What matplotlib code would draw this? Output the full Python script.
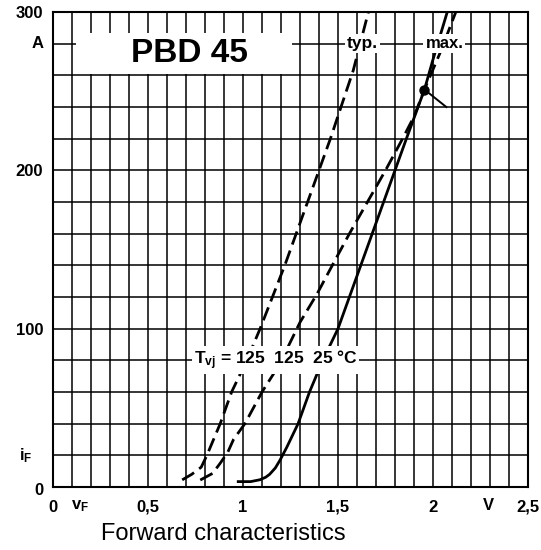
import matplotlib
matplotlib.use('Agg')
import matplotlib.pyplot as plt
from matplotlib.patches import Rectangle
import numpy as np

plt.rcParams['font.family'] = ['Liberation Sans', 'DejaVu Sans']
plt.rcParams['mathtext.fontset'] = 'custom'
plt.rcParams['mathtext.rm'] = 'Liberation Sans:bold'
plt.rcParams['mathtext.it'] = 'Liberation Sans:bold'

# 125 °C typ. (dashed, left)
typ125_v = [0.68, 0.73, 0.78, 0.81, 0.88, 0.94, 1.02, 1.09, 1.22, 1.28, 1.34, 1.40, 1.46, 1.58, 1.66]
typ125_i = [4.5, 8, 12.5, 20, 40, 60, 80, 100, 140, 160, 180, 200, 220, 263, 300]

# 125 °C max. (dashed, right)
max125_v = [0.775, 0.84, 0.88, 0.92, 0.95, 1.01, 1.10, 1.19, 1.30, 1.39, 1.47, 1.56, 1.655, 1.75, 1.84, 1.90, 1.955, 2.04, 2.12]
max125_i = [4.4, 8.6, 15, 22, 30, 40, 60, 77, 104, 122, 140, 160, 180, 200, 220, 234, 251, 275, 300]

# 25 °C (solid)
t25_v = [0.975, 1.04, 1.09, 1.12, 1.14, 1.17, 1.195, 1.23, 1.29, 1.35, 1.42, 1.50, 1.56, 1.62, 1.68, 1.80, 1.86, 1.90, 1.955, 2.00, 2.075]
t25_i = [3.4, 3.4, 4.6, 6.2, 8, 12, 17, 25, 40, 60, 80, 100, 120, 140, 160, 200, 220, 233, 251, 270, 300]

cross_v, cross_i = 1.955, 251
pointer_v, pointer_i = 2.07, 240

x_ticks = [0, 0.5, 1, 1.5, 2, 2.5]
x_labels = ['0', '0,5', '1', '1,5', '2', '2,5']
y_ticks = [100, 200, 300]
y_labels = ['100', '200', '300']

fig = plt.figure(figsize=(5.41, 5.50), dpi=100)
ax = fig.add_axes([53 / 541, 63 / 550, 475 / 541, 475 / 550])
ax.set_xlim(0, 2.5)
ax.set_ylim(0, 300)

ax.set_xticks(x_ticks)
ax.set_xticklabels(x_labels, fontsize=12, fontweight='bold')
ax.set_xticks(np.arange(0, 2.51, 0.1), minor=True)
ax.set_yticks(y_ticks)
ax.set_yticklabels(y_labels, fontsize=12, fontweight='bold')
ax.set_yticks(np.arange(0, 301, 20), minor=True)
ax.tick_params(which='both', length=0)
ax.tick_params(axis='x', pad=9)
ax.tick_params(axis='y', pad=7)
ax.set_axisbelow(True)
ax.grid(True, which='both', color='black', linewidth=1.1)
for s in ax.spines.values():
    s.set_linewidth(1.5)

# title box
ax.add_patch(Rectangle((0.12, 261), 1.14, 26, facecolor='white', edgecolor='none', zorder=1))
ax.text(0.716, 273.5, 'PBD 45', fontsize=24, fontweight='bold', ha='center', va='center', zorder=2)

# curves
ax.plot(typ125_v, typ125_i, color='black', linewidth=2.0, dashes=(5, 2.3), zorder=3)
ax.plot(max125_v, max125_i, color='black', linewidth=2.0, dashes=(5, 2.3), zorder=3)
ax.plot(t25_v, t25_i, color='black', linewidth=2.0, zorder=3)
ax.plot([cross_v, pointer_v], [cross_i, pointer_i], color='black', linewidth=1.4, zorder=3)
ax.plot([cross_v], [cross_i], 'o', color='black', markersize=6.5, zorder=4)

box = dict(facecolor='white', edgecolor='none', pad=1.5)
ax.text(1.63, 280, 'typ.', fontsize=12.5, fontweight='bold', ha='center', va='center', bbox=box, zorder=5)
ax.text(2.06, 280, 'max.', fontsize=12, fontweight='bold', ha='center', va='center', bbox=box, zorder=5)
ax.text(0.74, 80, r'T$_{\rm vj}$ = 125  125  25 °C', fontsize=12.5, fontweight='bold',
        ha='left', va='center', bbox=box, zorder=5)

# axis annotations
ax.text(-0.05, 280, 'A', fontsize=12, fontweight='bold', ha='right', va='center', clip_on=False)
ax.text(-0.11, 20, r'i$_{\rm F}$', fontsize=12, fontweight='bold', ha='right', va='center', clip_on=False)
ax.text(-0.05, -2.5, '0', fontsize=12, fontweight='bold', ha='right', va='center', clip_on=False)
ax.text(0.14, -12, r'v$_{\rm F}$', fontsize=12, fontweight='bold', ha='center', va='center', clip_on=False)
ax.text(2.29, -12, 'V', fontsize=12, fontweight='bold', ha='center', va='center', clip_on=False)

fig.text(223 / 541, 1 - 534 / 550, 'Forward characteristics', fontsize=17, ha='center', va='center')

plt.savefig('out.png', dpi=100)
plt.close()
